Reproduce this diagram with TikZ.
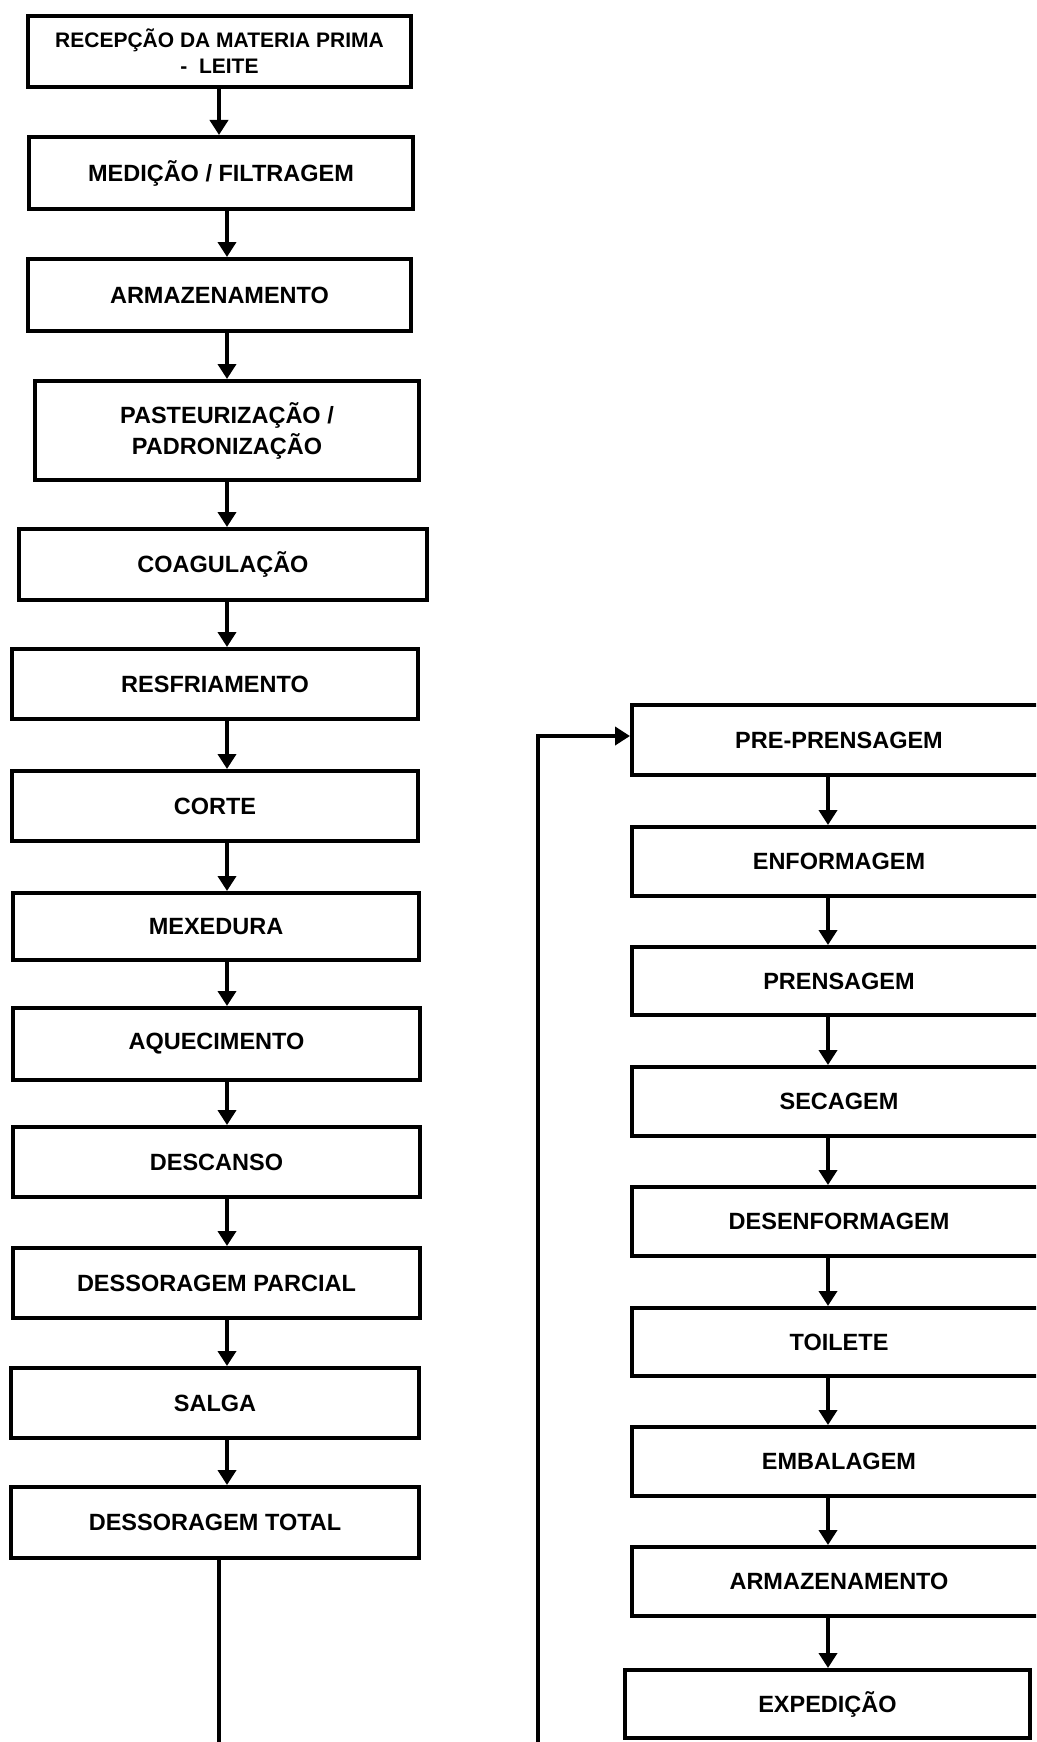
\documentclass[tikz,border=0pt]{standalone}
\usepackage{fontspec}
\setmainfont{Liberation Sans}
\usetikzlibrary{arrows.meta}
\begin{document}
\begin{tikzpicture}[x=1pt,y=-1pt,
  box/.style={draw=black, line width=4pt, inner sep=0pt, align=center,
    font=\bfseries\fontsize{23.5}{31}\selectfont},
  rbox/.style={box, minimum width=414pt},
  arr/.style={line width=4pt, -{Triangle[width=18pt,length=15pt]}},
  feed/.style={line width=4pt}]
\clip (0,0) rectangle (1036,1742);

% left column
\node[box, minimum width=383pt, minimum height=71pt,
  font=\bfseries\fontsize{21}{26}\selectfont] (n1) at (219.5,51.5)
  {RECEPÇÃO DA MATERIA PRIMA\\-~ LEITE};
\node[box, minimum width=384pt, minimum height=72pt] (n2) at (221,173) {MEDIÇÃO / FILTRAGEM};
\node[box, minimum width=383pt, minimum height=72pt] (n3) at (219.5,295) {ARMAZENAMENTO};
\node[box, minimum width=384pt, minimum height=99pt] (n4) at (227,430.5) {PASTEURIZAÇÃO /\\PADRONIZAÇÃO};
\node[box, minimum width=408pt, minimum height=71pt] (n5) at (223,564.5) {COAGULAÇÃO};
\node[box, minimum width=406pt, minimum height=70pt] (n6) at (215,684) {RESFRIAMENTO};
\node[box, minimum width=406pt, minimum height=70pt] (n7) at (215,806) {CORTE};
\node[box, minimum width=406pt, minimum height=67pt] (n8) at (216,926.5) {MEXEDURA};
\node[box, minimum width=407pt, minimum height=72pt] (n9) at (216.5,1044) {AQUECIMENTO};
\node[box, minimum width=407pt, minimum height=70pt] (n10) at (216.5,1162) {DESCANSO};
\node[box, minimum width=407pt, minimum height=70pt] (n11) at (216.5,1283) {DESSORAGEM PARCIAL};
\node[box, minimum width=408pt, minimum height=70pt] (n12) at (215,1403) {SALGA};
\node[box, minimum width=408pt, minimum height=71pt] (n13) at (215,1522.5) {DESSORAGEM TOTAL};

% right column (open to the right)
\node[rbox, minimum height=70pt] (r1) at (839,740) {PRE-PRENSAGEM};
\node[rbox, minimum height=69pt] (r2) at (839,861.5) {ENFORMAGEM};
\node[rbox, minimum height=68pt] (r3) at (839,981) {PRENSAGEM};
\node[rbox, minimum height=69pt] (r4) at (839,1101.5) {SECAGEM};
\node[rbox, minimum height=69pt] (r5) at (839,1221.5) {DESENFORMAGEM};
\node[rbox, minimum height=68pt] (r6) at (839,1342) {TOILETE};
\node[rbox, minimum height=69pt] (r7) at (839,1461.5) {EMBALAGEM};
\node[rbox, minimum height=69pt] (r8) at (839,1581.5) {ARMAZENAMENTO};
\node[box, minimum width=405pt, minimum height=68pt] (r9) at (827.5,1704) {EXPEDIÇÃO};

% arrow lanes
\coordinate (la) at (219,0);
\coordinate (lb) at (227,0);
\coordinate (rl) at (828,0);

\draw[arr] (n1.south -| la) -- (n2.north -| la);
\foreach \a/\b in {n2/n3,n3/n4,n4/n5,n5/n6,n6/n7,n7/n8,n8/n9,n9/n10,n10/n11,n11/n12,n12/n13}
  \draw[arr] (\a.south -| lb) -- (\b.north -| lb);

\foreach \a/\b in {r1/r2,r2/r3,r3/r4,r4/r5,r5/r6,r6/r7,r7/r8,r8/r9}
  \draw[arr] (\a.south -| rl) -- (\b.north -| rl);

% run-off from the left column and return into the right column
\coordinate (lout) at (219,1750);
\coordinate (rin) at (538,1750);
\coordinate (rturn) at (538,736);
\draw[feed] (n13.south -| lout) -- (lout);
\draw[arr] (rin) -- (rturn) -- (rturn -| r1.west);
\end{tikzpicture}
\end{document}
